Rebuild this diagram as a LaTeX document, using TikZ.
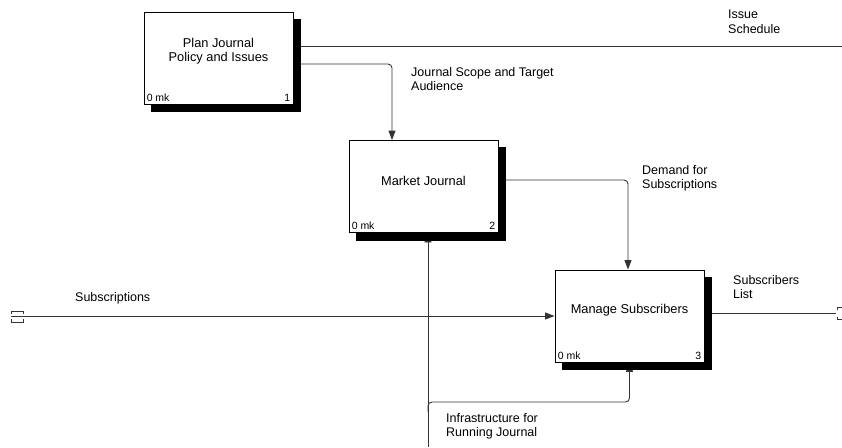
\documentclass[tikz,border=0pt]{standalone}
\usepackage{fontspec}
\setmainfont{Liberation Sans}
\usetikzlibrary{arrows.meta,calc,backgrounds}

\newcommand\boxfont{\fontsize{12.8}{14.2}\selectfont}
\newcommand\lblfont{\fontsize{12.5}{14.2}\selectfont}
\newcommand\cornerfont{\fontsize{10.5}{12}\selectfont}

\tikzset{
  box/.style={draw=black, fill=white, line width=0.9pt,
    minimum width=149pt, minimum height=92pt, inner sep=0pt},
  boxtext/.style={align=center, inner sep=0pt, font=\boxfont},
  corner/.style={inner sep=0pt, font=\cornerfont},
  lbl/.style={anchor=north west, align=left, inner sep=0pt, font=\lblfont},
  conn/.style={draw=black!80, line width=0.9pt, rounded corners=4pt},
  tip/.style={-{Triangle[length=9.5pt,width=7pt]}},
  shadow/.style={fill=black},
  tunnel/.style={draw=black!80, line width=0.9pt},
}

\begin{document}
\begin{tikzpicture}[x=1pt,y=-1pt]
\useasboundingbox (0,0) rectangle (842,447);

% activity boxes
\node[box] (b1) at (218.5,58) {};
\node[box] (b2) at (423.5,186.5) {};
\node[box] (b3) at (629.5,316) {};

\node[boxtext] (t1) at ($(b1.center)+(0,-7)$) {Plan Journal\\Policy and Issues};
\node[boxtext] (t2) at ($(b2.center)+(0,-6)$) {Market Journal};
\node[boxtext] (t3) at ($(b3.center)+(0,-6)$) {Manage Subscribers};

\foreach \b/\n in {b1/1,b2/2,b3/3}{
  \node[corner, anchor=south west] (\b mk) at ($(\b.south west)+(3,-3)$) {0 mk};
  \node[corner, anchor=south east] (\b no) at ($(\b.south east)+(-3,-3)$) {\n};
}

% free ends and bends of the arrows
\coordinate (isE) at (842,46);
\coordinate (jsY) at (392,64);
\coordinate (dmY) at (628,180);
\coordinate (inW) at (11,316);
\coordinate (outE) at (836,313);
\coordinate (mecB) at (428,447);
\coordinate (brS) at (428,412);
\coordinate (brY) at (428,402);

\begin{scope}[on background layer]
  % arrows
  \draw[conn] (b1.east |- isE) -- (isE);
  \draw[conn,tip] (b1.east |- jsY) -| (b2.north -| jsY);
  \draw[conn,tip] (b2.east |- dmY) -| (b3.north -| dmY);
  \draw[conn,tip] (inW) -- (b3.west);
  \draw[conn] (b3.east |- outE) -- (outE);
  \draw[conn,tip] (mecB) -- (b2.south -| mecB);
  \draw[conn,tip] (brS) -- (brY) -| (b3.south);
  % drop shadows
  \foreach \b in {b1,b2,b3}{
    \fill[shadow] ($(\b.south west)+(7,8)$) rectangle ($(\b.north east)+(8,7)$);
  }
\end{scope}

% tunnel brackets at the open arrow ends
\draw[tunnel] (11,313.5) -- (11,311) -- (23,311) -- (23,313.5);
\draw[tunnel] (11,319) -- (11,322) -- (23,322) -- (23,319);
\draw[tunnel] (842,307) -- (837.5,307) -- (837.5,309.5);
\draw[tunnel] (842,319) -- (837.5,319) -- (837.5,316.5);

% arrow labels
\node[lbl] (lis) at (728,10) {Issue\\Schedule};
\node[lbl] (ljs) at (411,67) {Journal Scope and Target\\Audience};
\node[lbl] (ldm) at (642,165) {Demand for\\Subscriptions};
\node[lbl] (lsb) at (75,292) {Subscriptions};
\node[lbl] (lsl) at (733,275) {Subscribers\\List};
\node[lbl] (lin) at (446,413) {Infrastructure for\\Running Journal};
\end{tikzpicture}
\end{document}
